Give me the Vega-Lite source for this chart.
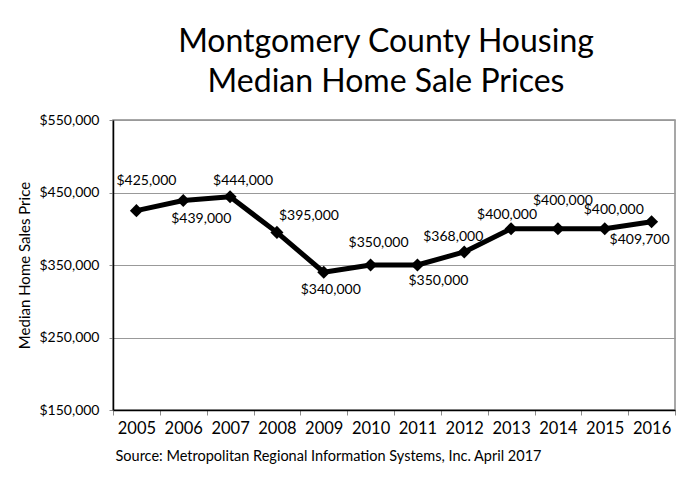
{
  "$schema": "https://vega.github.io/schema/vega-lite/v6.json",
  "autosize": {"type": "none"},
  "width": 562,
  "height": 290,
  "padding": {"left": 113, "top": 120, "right": 3, "bottom": 70},
  "background": "white",
  "config": {
    "font": "Lato",
    "view": {"stroke": "#8a8a8a", "strokeWidth": 1.5}
  },
  "title": {
    "text": ["Montgomery County Housing", "Median Home Sale Prices"],
    "font": "Lato",
    "fontSize": 32,
    "fontWeight": "normal",
    "lineHeight": 40,
    "anchor": "middle",
    "frame": "group",
    "dx": -8,
    "offset": 14,
    "color": "black"
  },
  "data": {
    "values": [
      {"year": 2005, "price": 425000},
      {"year": 2006, "price": 439000},
      {"year": 2007, "price": 444000},
      {"year": 2008, "price": 395000},
      {"year": 2009, "price": 340000},
      {"year": 2010, "price": 350000},
      {"year": 2011, "price": 350000},
      {"year": 2012, "price": 368000},
      {"year": 2013, "price": 400000},
      {"year": 2014, "price": 400000},
      {"year": 2015, "price": 400000},
      {"year": 2016, "price": 409700}
    ]
  },
  "encoding": {
    "x": {
      "field": "year",
      "type": "ordinal",
      "scale": {"type": "band", "paddingInner": 0, "paddingOuter": 0},
      "axis": {
        "title": "Source: Metropolitan Regional Information Systems, Inc. April 2017",
        "titleFont": "Lato",
        "titleFontSize": 14.5,
        "titleFontWeight": "normal",
        "titleColor": "black",
        "titleAnchor": "start",
        "titleX": 2,
        "titlePadding": 13,
        "labelAngle": 0,
        "labelFont": "Lato",
        "labelFontSize": 16.5,
        "labelColor": "black",
        "labelPadding": 5,
        "tickBand": "extent",
        "tickSize": 5,
        "tickColor": "#8a8a8a",
        "domainColor": "black",
        "domainWidth": 1.5,
        "grid": false
      }
    },
    "y": {
      "field": "price",
      "type": "quantitative",
      "scale": {"domain": [150000, 550000], "nice": false, "zero": false},
      "axis": {
        "values": [150000, 250000, 350000, 450000, 550000],
        "format": "$,.0f",
        "title": "Median Home Sales Price",
        "titleFont": "Lato",
        "titleFontSize": 15,
        "titleFontWeight": "normal",
        "titleColor": "black",
        "titlePadding": 6,
        "labelFont": "Lato",
        "labelFontSize": 14,
        "labelColor": "black",
        "labelPadding": 10,
        "tickSize": 4,
        "tickColor": "#8a8a8a",
        "domainColor": "black",
        "domainWidth": 1.5,
        "gridColor": "#999999",
        "gridWidth": 1.2
      }
    }
  },
  "layer": [
    {
      "mark": {"type": "line", "color": "black", "strokeWidth": 5, "strokeJoin": "round"}
    },
    {
      "mark": {"type": "point", "shape": "diamond", "filled": true, "color": "black", "size": 170, "opacity": 1}
    },
    {
      "mark": {
        "type": "text",
        "font": "Lato",
        "fontSize": 14,
        "color": "black",
        "align": "center",
        "baseline": "middle",
        "dx": {"expr": "[10,18,13,32,7,8,21,-11,-4,5,9,-12][datum.year-2005]"},
        "dy": {"expr": "[-30,19,-16,-16,18,-22,16,-15,-14,-28,-19,18][datum.year-2005]"}
      },
      "encoding": {
        "text": {"field": "price", "type": "quantitative", "format": "$,.0f"}
      }
    }
  ]
}
